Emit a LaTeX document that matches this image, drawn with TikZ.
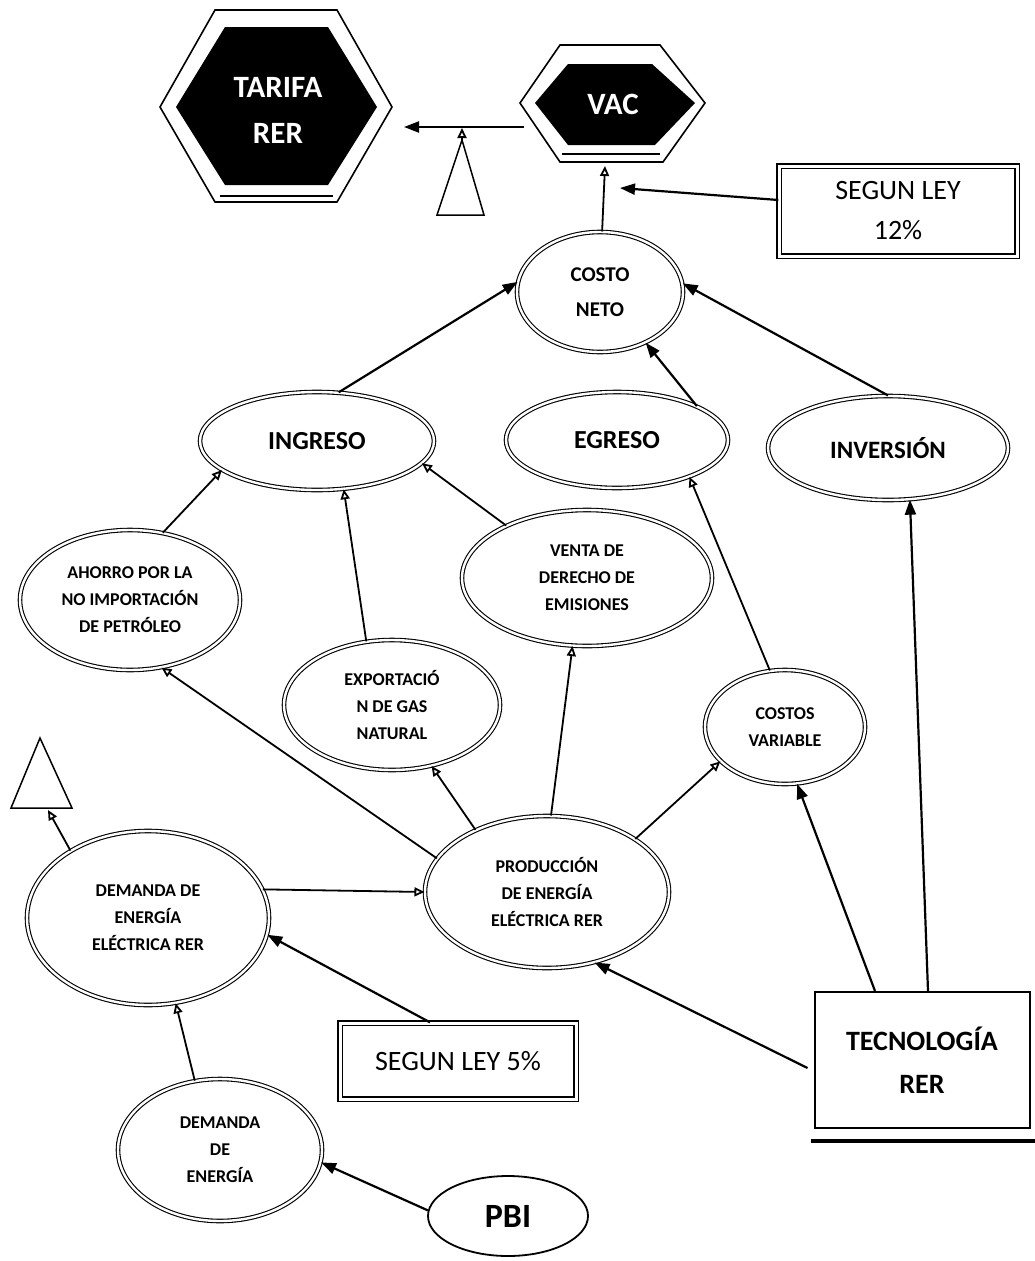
\documentclass[tikz,border=0pt]{standalone}
\usepackage{fontspec}
\setmainfont{Carlito}
\usetikzlibrary{arrows.meta,shapes.geometric}
\begin{document}
\begin{tikzpicture}[x=1pt,y=-1pt,
  ell/.style={draw, ellipse, double, line width=1.1pt, double distance=2.4pt, inner sep=0pt, align=center, font=\bfseries\fontsize{18}{27}\selectfont},
  bigell/.style={ell, font=\bfseries\fontsize{26}{30}\selectfont},
  dbox/.style={draw, double, line width=1.3pt, double distance=3pt, inner sep=0pt, align=center, font=\fontsize{28}{40}\selectfont},
  hextext/.style={text=white, align=center, font=\bfseries\fontsize{31}{46}\selectfont},
  arr/.style={line width=2.2pt, -{Triangle[length=15pt,width=11pt]}},
  oarr/.style={line width=1.8pt, -{Triangle[open,length=10pt,width=9pt]}},
  hexline/.style={line width=1.6pt}]
\useasboundingbox (0,0) rectangle (1035,1261);
\fill[white] (0,0) rectangle (1035,1261);

% TARIFA RER hexagon
\draw[hexline, fill=white] (160,107) -- (215,10) -- (337,10) -- (392,107) -- (337,202) -- (215,202) -- cycle;
\fill[black] (176,107) -- (225,27) -- (328,27) -- (377,107) -- (328,185) -- (225,185) -- cycle;
\draw[line width=1.2pt] (220,196) -- (333,196);
\node[hextext] (tarifa) at (278,110) {TARIFA\\RER};

% VAC hexagon
\draw[hexline, fill=white] (520,103) -- (560,45) -- (660,45) -- (705,103) -- (663,162) -- (560,162) -- cycle;
\fill[black] (535,103) -- (568,64) -- (652,64) -- (695,103) -- (655,145) -- (568,145) -- cycle;
\draw[line width=1.2pt] (562,154) -- (660,154);
\node[hextext] (vac) at (613,104) {VAC};

% triangles
\coordinate (triA) at (462,140);
\coordinate (topline) at (462,128);
\draw[line width=1.5pt] (triA) -- (437,215) -- (484,215) -- cycle;
\coordinate (triB) at (40,738);
\draw[line width=1.5pt] (triB) -- (11,808) -- (72,808) -- cycle;
\coordinate (triBbase) at (48,810);

% boxes
\node[dbox, minimum width=238, minimum height=90] (ley12) at (898,211) {SEGUN LEY\\12\%};
\node[dbox, minimum width=236, minimum height=76] (ley5) at (458,1061) {SEGUN LEY 5\%};
\node[draw, line width=2pt, minimum width=215, minimum height=136, inner sep=0pt, align=center,
      font=\bfseries\fontsize{28}{43}\selectfont] (tec) at (922,1060) {TECNOLOGÍA\\RER};
\draw[line width=3.5pt] ([xshift=-3pt,yshift=-12pt]tec.south west) -- ([xshift=5pt,yshift=-12pt]tec.south east);

% ellipses
\node[ell, minimum width=166, minimum height=120, font=\bfseries\fontsize{21}{35}\selectfont] (costo) at (600,292) {COSTO\\NETO};
\node[bigell, minimum width=234, minimum height=98] (ingreso) at (317,441) {INGRESO};
\node[bigell, minimum width=222, minimum height=96] (egreso) at (617,440) {EGRESO};
\node[bigell, minimum width=240, minimum height=104, font=\bfseries\fontsize{25}{30}\selectfont] (inversion) at (888,448) {INVERSIÓN};
\node[ell, minimum width=220, minimum height=140] (ahorro) at (130,600) {AHORRO POR LA\\NO IMPORTACIÓN\\DE PETRÓLEO};
\node[ell, minimum width=216, minimum height=130] (export) at (392,705) {EXPORTACIÓ\\N DE GAS\\NATURAL};
\node[ell, minimum width=250, minimum height=136] (venta) at (587,578) {VENTA DE\\DERECHO DE\\EMISIONES};
\node[ell, minimum width=160, minimum height=114] (costos) at (785,727) {COSTOS\\VARIABLE};
\node[ell, minimum width=244, minimum height=152] (prod) at (547,892) {PRODUCCIÓN\\DE ENERGÍA\\ELÉCTRICA RER};
\node[ell, minimum width=242, minimum height=174] (demrer) at (148,918) {DEMANDA DE\\ENERGÍA\\ELÉCTRICA RER};
\node[ell, minimum width=204, minimum height=142] (demen) at (220,1150) {DEMANDA\\DE\\ENERGÍA};
\node[draw, ellipse, line width=1.8pt, minimum width=160, minimum height=80, inner sep=0pt,
      font=\bfseries\fontsize{34}{40}\selectfont] (pbi) at (508,1216) {PBI};

% connector endpoints
\coordinate (vacL) at (524,127);
\coordinate (tarR) at (404,127);
\coordinate (vacB) at (605,166);
\coordinate (vacline) at (620,188);

% connectors
\draw[arr] (vacL) -- (tarR);
\draw[oarr] (triA) -- (topline);
\draw[oarr] (costo.88) -- (vacB);
\draw[arr] ([yshift=11pt]ley12.west) -- (vacline);
\draw[arr] (ingreso.66) -- (costo.173);
\draw[arr] (egreso.23) -- (costo.-48);
\draw[arr] (inversion.90) -- (costo.6);
\draw[oarr] (ahorro.64) -- (ingreso.197);
\draw[oarr] (export.112) -- (ingreso.-61);
\draw[oarr] (venta.147) -- (ingreso.-12);
\draw[oarr] (costos.105) -- (egreso.-27);
\draw[oarr] (prod.163) -- (ahorro.-65);
\draw[oarr] (prod.139) -- (export.-57);
\draw[oarr] (prod.87) -- (venta.-102);
\draw[oarr] (prod.31) -- (costos.-152);
\draw[oarr] (demrer.14) -- (prod.west);
\draw[oarr] (demrer.139) -- (triBbase);
\draw[arr] ([xshift=-28pt]ley5.north) -- (demrer.-8);
\draw[oarr] (demen.110) -- (demrer.-72);
\draw[arr] (pbi.176) -- (demen.-7);
\draw[arr] ([xshift=-6pt,yshift=-8pt]tec.west) -- (prod.-56);
\draw[arr] ([xshift=-47pt]tec.north) -- (costos.-78);
\draw[arr] ([xshift=6pt]tec.north) -- (inversion.-67);
\end{tikzpicture}
\end{document}
